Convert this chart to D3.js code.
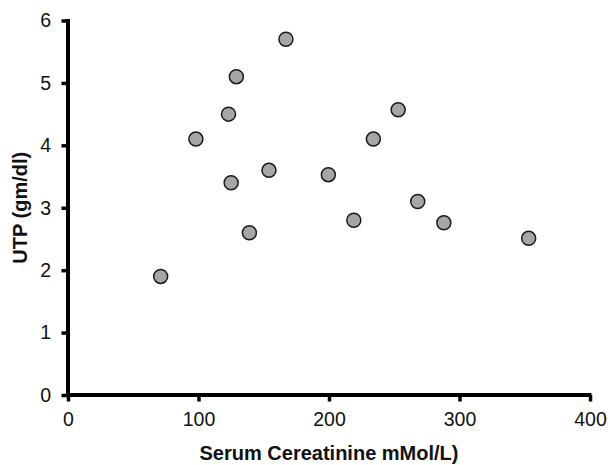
<!DOCTYPE html>
<html>
<head>
<meta charset="utf-8">
<script src="https://cdn.jsdelivr.net/npm/d3@7"></script>
<style>
  body { margin: 0; background: #fff; }
  text { font-family: "Liberation Sans", Arial, sans-serif; }
</style>
</head>
<body>
<svg id="chart" width="610" height="465"></svg>
<script>
const serumCreatinine = [71, 98, 123, 125, 129, 139, 154, 167, 199.5, 219, 234, 253, 268, 288, 353];
const utp = [1.9, 4.1, 4.5, 3.4, 5.1, 2.6, 3.6, 5.7, 3.53, 2.8, 4.1, 4.57, 3.1, 2.76, 2.51];
const xTicks = [0, 100, 200, 300, 400];
const yTicks = [0, 1, 2, 3, 4, 5, 6];
const xTitle = "Serum Cereatinine mMol/L)";
const yTitle = "UTP (gm/dl)";

const svg = d3.select("#chart");
const x = d3.scaleLinear().domain([0, 400]).range([68, 590]);
const y = d3.scaleLinear().domain([0, 6]).range([395, 20.5]);

const xAxis = svg.append("g").attr("transform", "translate(0,395)")
  .call(d3.axisBottom(x).tickValues(xTicks).tickFormat(d3.format("d"))
    .tickSize(6.5).tickPadding(10.5).tickSizeOuter(0));
const yAxis = svg.append("g").attr("transform", "translate(68,0)")
  .call(d3.axisLeft(y).tickValues(yTicks).tickFormat(d3.format("d"))
    .tickSize(6.5).tickPadding(10.5).tickSizeOuter(0));

// extend domains to cover the corner join
xAxis.select(".domain").attr("d", `M${x(0) - 2},0H${x(400) + 1.5}`);
yAxis.select(".domain").attr("d", `M0,${y(6) - 1.5}V${y(0) + 2}`);

[xAxis, yAxis].forEach(a => {
  a.select(".domain").attr("stroke", "#000").attr("stroke-width", 4).attr("fill", "none");
  a.selectAll(".tick line").attr("stroke", "#000").attr("stroke-width", 3.5);
  a.selectAll(".tick text").attr("fill", "#111").style("font-size", "19.5px")
    .style("font-family", "'Liberation Sans', Arial, sans-serif");
});

svg.append("g").selectAll("circle")
  .data(serumCreatinine.map((v, i) => [v, utp[i]]))
  .join("circle")
  .attr("cx", d => x(d[0]))
  .attr("cy", d => y(d[1]))
  .attr("r", 7)
  .attr("fill", "#a6a6a6")
  .attr("stroke", "#1a1a1a")
  .attr("stroke-width", 1.5);

svg.append("text")
  .attr("x", x(200)).attr("y", 460)
  .attr("text-anchor", "middle")
  .style("font-size", "20px").style("font-weight", "bold").attr("fill", "#111")
  .text(xTitle);

svg.append("text")
  .attr("transform", `translate(27,${y(3)}) rotate(-90)`)
  .attr("text-anchor", "middle")
  .style("font-size", "20px").style("font-weight", "bold").attr("fill", "#111")
  .text(yTitle);
</script>
</body>
</html>
